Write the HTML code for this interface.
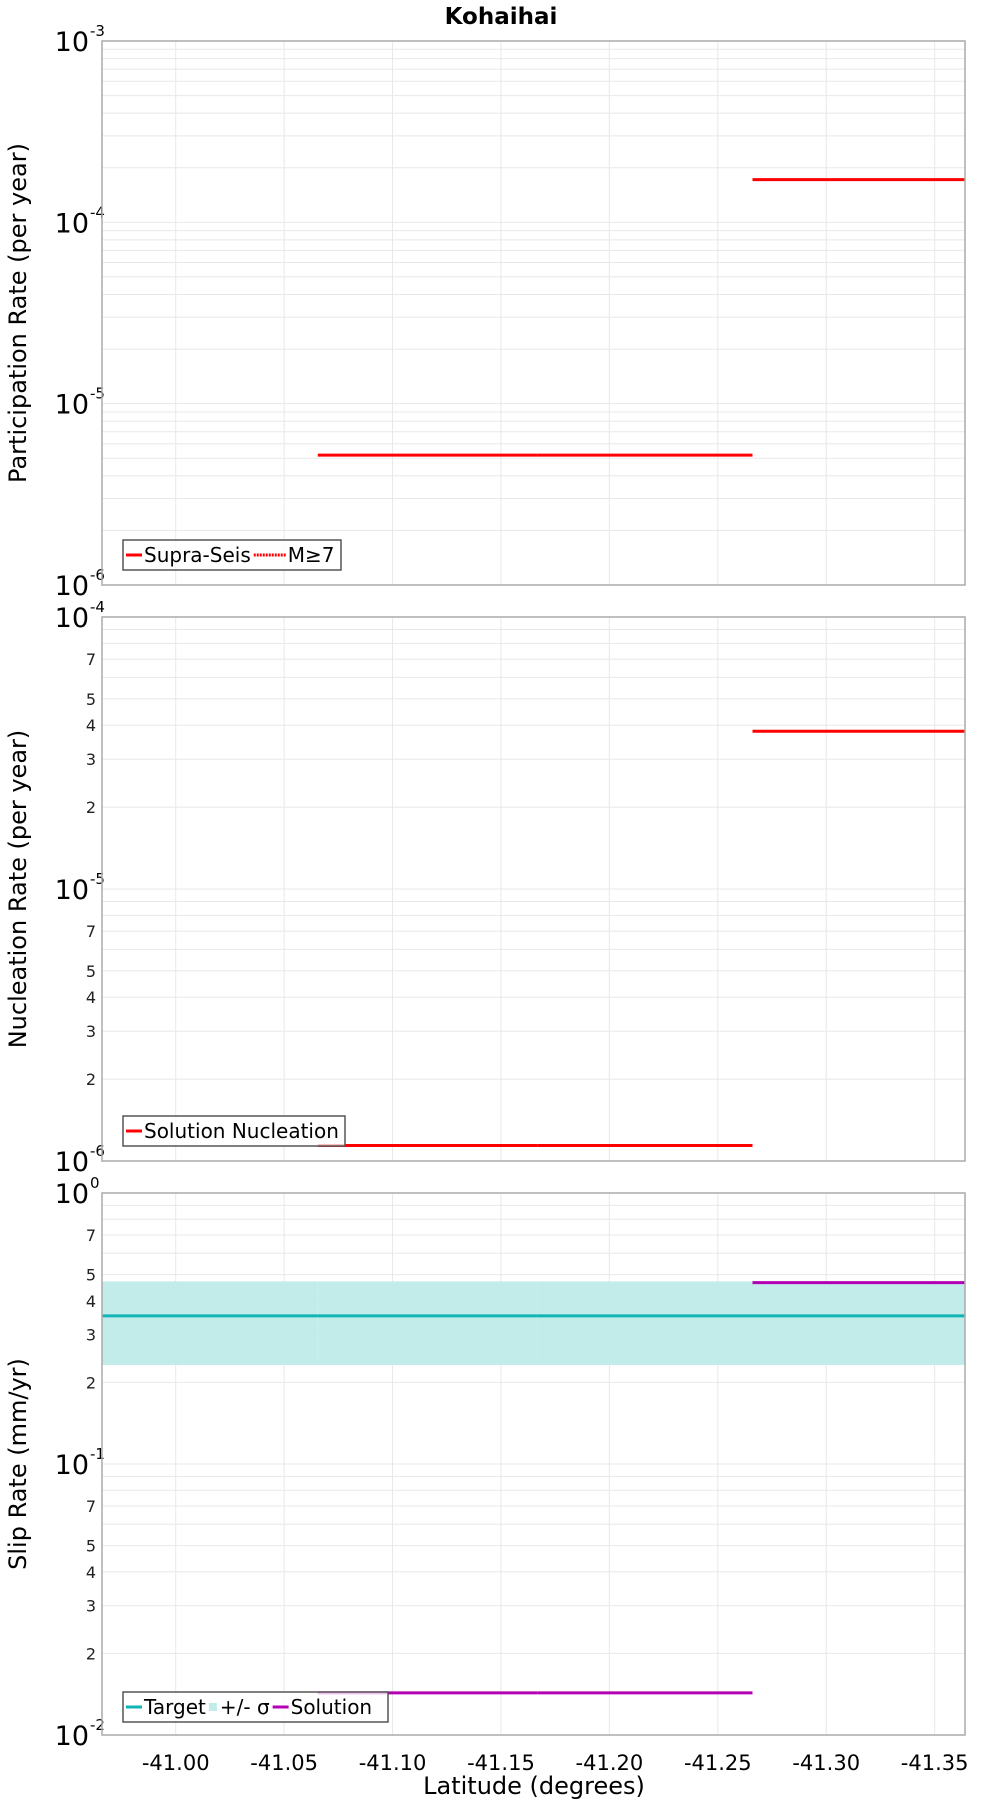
<!DOCTYPE html>
<html><head><meta charset="utf-8"><style>
body{margin:0;background:#fff}
svg{display:block;font-family:"DejaVu Sans","Liberation Sans",sans-serif}
</style></head><body>
<svg id="chart" width="1000" height="1800" viewBox="0 0 1000 1800" xmlns="http://www.w3.org/2000/svg">
<text x="501" y="24" text-anchor="middle" font-size="23" font-weight="bold">Kohaihai</text>
</svg>
<script>
// ---- data ----
const xTicks = [-41.00,-41.05,-41.10,-41.15,-41.20,-41.25,-41.30,-41.35];
const sectionEdges = [-40.966,-41.0655,-41.167,-41.266,-41.364];
const participation = [null, 5.2e-6, 5.2e-6, 1.72e-4];
const nucleation = [null, 1.14e-6, 1.14e-6, 3.8e-5];
const slipTarget = [0.352, 0.352, 0.352, 0.352];
const slipLow = [0.232, 0.232, 0.232, 0.232];
const slipHigh = [0.472, 0.472, 0.472, 0.472];
const slipSolution = [null, 0.0143, 0.0143, 0.467];

const NS = "http://www.w3.org/2000/svg";
const svg = document.getElementById('chart');
const L = 102, R = 965;
const xMin = -40.966, xMax = -41.364;
function xs(v){ return L + (v - xMin) / (xMax - xMin) * (R - L); }
function mk(tag, attrs, parent){ const e = document.createElementNS(NS, tag); for (const k in attrs) e.setAttribute(k, attrs[k]); (parent||svg).appendChild(e); return e; }

const panels = [
 {top:41, bottom:585, lo:-6, hi:-3, minorLabels:false, title:'Participation Rate (per year)', name:'participation'},
 {top:617, bottom:1161, lo:-6, hi:-4, minorLabels:true, title:'Nucleation Rate (per year)', name:'nucleation'},
 {top:1193, bottom:1735, lo:-2, hi:0, minorLabels:true, title:'Slip Rate (mm/yr)', name:'slip-rate'}
];
function ysF(p){ return v => p.bottom - (Math.log10(v) - p.lo) / (p.hi - p.lo) * (p.bottom - p.top); }

panels.forEach((p, pi) => {
  const ys = ysF(p);
  const g = mk('g', {});
  
  
  for (let d = p.lo; d < p.hi; d++) {
    for (let m = 1; m <= 9; m++) {
      const v = m * Math.pow(10, d);
      if (m === 1 && d === p.lo) continue;
      const y = ys(v);
      const gl = mk('line', {x1:L, x2:R, y1:y, y2:y, stroke:'#e8e8e8', 'stroke-width':1}, g);
      
      
      if (p.minorLabels && [2,3,4,5,7].includes(m)) {
        const t = mk('text', {x:96, y:y+6, 'text-anchor':'end', 'font-size':16, fill:'#222'}, g);
        t.textContent = m;
        
        
      }
    }
  }
  xTicks.forEach(v => {
    const x = xs(v);
    const vl = mk('line', {x1:x, x2:x, y1:p.top, y2:p.bottom, stroke:'#e8e8e8', 'stroke-width':1}, g);
    
    
  });
  for (let d = p.lo; d <= p.hi; d++) {
    const y = ys(Math.pow(10, d));
    const t = mk('text', {x:89, y:y+10, 'text-anchor':'end', 'font-size':27, fill:'#000'}, g);
    t.textContent = '10';
    
    
    const s = mk('text', {x:90, y:y-5, 'font-size':15, fill:'#000'}, g);
    s.textContent = String(d);
    
    
  }
  const cy = (p.top + p.bottom) / 2;
  const yt = mk('text', {x:0, y:0, transform:`translate(26,${cy}) rotate(-90)`, 'text-anchor':'middle', 'font-size':24, fill:'#000'}, g);
  yt.textContent = p.title;
  
  

  function seg(arr, color, name, w){
    arr.forEach((v, i) => {
      if (v == null) return;
      const y = ys(v);
      const ln = mk('line', {x1:xs(sectionEdges[i]), x2:xs(sectionEdges[i+1]), y1:y, y2:y, stroke:color, 'stroke-width':w||3}, g);
      
      
    });
  }
  if (pi === 0) seg(participation, '#ff0000', 'supra-seis-segment');
  if (pi === 1) seg(nucleation, '#ff0000', 'nucleation-segment');
  if (pi === 2) {
    slipLow.forEach((v, i) => {
      const y1 = ys(slipHigh[i]), y2 = ys(v);
      const r = mk('rect', {x:xs(sectionEdges[i]), y:y1, width:xs(sectionEdges[i+1]) - xs(sectionEdges[i]), height:y2-y1, fill:'#c2ecea'}, g);
      
      
    });
    seg(slipTarget, '#10b4b4', 'target-segment');
    seg(slipSolution, '#b400b4', 'solution-segment');
  }
  const fr = mk('rect', {x:L, y:p.top, width:R-L, height:p.bottom-p.top, fill:'none', stroke:'#aaa', 'stroke-width':1.5}, g);
  
  
});

xTicks.forEach(v => {
  const t = mk('text', {x:xs(v), y:1770, 'text-anchor':'middle', 'font-size':21, fill:'#000'});
  t.textContent = v.toFixed(2);
  
  
});
const xt = mk('text', {x:534, y:1794, 'text-anchor':'middle', 'font-size':24, fill:'#000'});
xt.textContent = 'Latitude (degrees)';



function legend(x, y, w, items, name){
  const g = mk('g', {});
  
  
  mk('rect', {x:x, y:y, width:w, height:30, fill:'rgba(255,255,255,0.75)', stroke:'#555', 'stroke-width':1.5}, g);
  let cx = x + 3;
  items.forEach(it => {
    if (it.type === 'box') mk('rect', {x:cx, y:y+11, width:8, height:8, fill:it.color}, g);
    else mk('line', {x1:cx, x2:cx + (it.dash?32:16), y1:y+15, y2:y+15, stroke:it.color, 'stroke-width':3, 'stroke-dasharray':it.dash||''}, g);
    cx += it.type === 'box' ? 11 : (it.dash ? 34 : 18);
    const t = mk('text', {x:cx, y:y+22, 'font-size':20, fill:'#000'}, g);
    t.textContent = it.label;
    
    
    cx += t.getComputedTextLength() + 3;
  });
}
legend(123, 540, 218, [{color:'#ff0000', label:'Supra-Seis'}, {color:'#ff0000', label:'M≥7', dash:'2,1'}], 'participation-legend');
legend(123, 1116, 222, [{color:'#ff0000', label:'Solution Nucleation'}], 'nucleation-legend');
legend(123, 1692, 265, [{color:'#10b4b4', label:'Target'}, {color:'#c2ecea', label:'+/- σ', type:'box'}, {color:'#b400b4', label:'Solution'}], 'slip-legend');
</script>
</body></html>
